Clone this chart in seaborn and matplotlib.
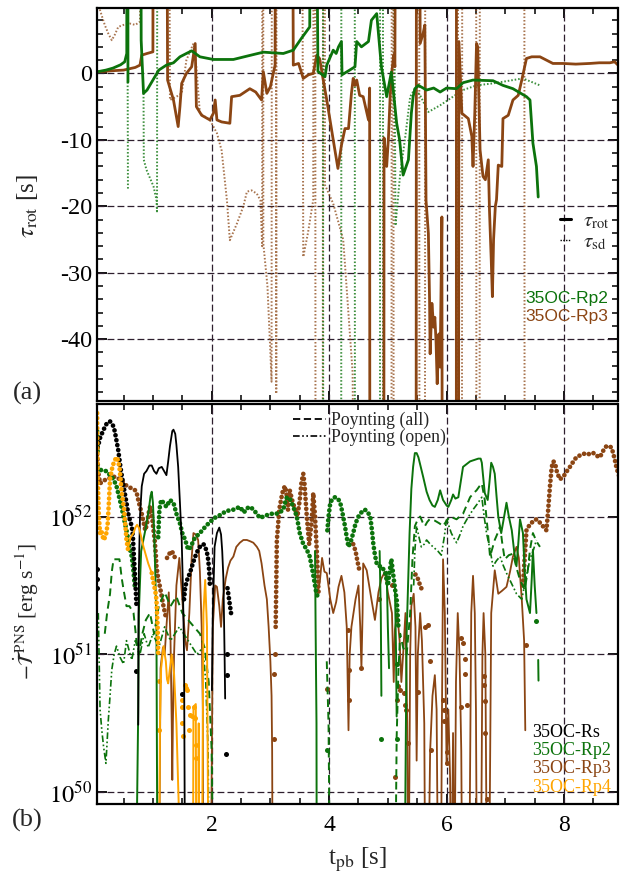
import numpy as np
import pandas as pd
import matplotlib
matplotlib.use("Agg")
import matplotlib.pyplot as plt
from matplotlib.lines import Line2D
from matplotlib.ticker import MultipleLocator, FixedLocator, NullLocator
import seaborn as sns

B = (np.nan, np.nan)  # gap between separate pieces of one curve

# ---------------- panel (a): time scales tau [s] vs t_pb [s] ----------------
rp2_rot = [(0.05, 0.24), (0.20, 0.5), (0.32, 0.8), (0.45, 1.3), (0.52, 1.75), (0.555, 3.0), (0.565, 100), B,
           (0.57, 100), (0.575, -1.3), B,
           (0.785, 100), (0.80, 5.0), (0.84, -3.0), (0.90, -2.5), (1.00, -1.0), (1.10, 0.5), (1.23, 1.25),
           (1.35, 1.6), (1.46, 2.5), (1.57, 3.0), (1.66, 3.4), (1.80, 2.5), (2.03, 2.1), (2.37, 2.1),
           (2.60, 2.6), (2.88, 3.2), (3.05, 3.1), (3.22, 3.0), (3.39, 3.5), (3.53, 5.3), (3.67, 7.0),
           (3.70, 100), (3.72, 100), (3.81, 0.3), (3.93, -0.5), (3.96, 1.25), (4.07, 3.5), (4.12, 3.0),
           (4.16, 4.0), (4.21, 4.8), (4.22, -0.2), (4.35, 0.5), (4.44, 1.0), (4.47, 4.8), (4.55, 4.0),
           (4.67, 4.8), (4.72, 8.0), (4.81, 9.0), (4.84, 6.0), (4.89, 1.0), (4.98, -3.5), (5.06, 0.2),
           (5.15, -7.5), (5.20, -10.0), (5.26, -15.3), (5.35, -13.0), (5.40, -6.0), (5.43, -3.5),
           (5.46, -2.3), (5.52, -1.8), (5.66, -2.5), (5.78, -2.2), (5.89, -2.8), (6.00, -2.2), (6.17, -2.3),
           (6.28, -1.4), (6.45, -1.0), (6.79, -1.1), (6.96, -1.8), (7.13, -2.3), (7.36, -3.5), (7.42, -4.0),
           (7.47, -10.5), (7.53, -14.0), (7.56, -18.6)]

rp2_sd = [(0.57, -1.3), (0.575, -17.5), B,
          (0.84, -3.0), (0.845, -13.0), (0.89, -14.5), (1.01, -17.0), (1.06, -19.0), (1.07, -21.0), (1.08, 100), B,
          (3.895, 100), (3.90, -100), (4.205, -100), (4.21, 100), (4.435, 100), (4.44, -100),
          (4.865, -100), (4.87, 100), (4.915, 100), (4.92, -100), B,
          (5.06, 100), (5.13, -22.9), (5.21, -15.1), (5.29, -10.0), (5.38, -3.5), (5.46, -2.3), (5.55, -3.3),
          (5.69, -5.8), (5.89, -4.8), (6.11, -3.5), (6.28, -2.5), (6.51, -1.8), (6.79, -1.5), (7.13, -1.0),
          (7.30, -0.75), (7.59, -1.8)]

rp3_rot = [(0.05, 0.24), (0.30, 0.4), (0.50, 0.5), (0.70, 0.9), (0.78, 1.25), (0.81, 2.75), (0.90, 3.0),
           (1.00, 3.25), (1.01, 100), B,
           (1.21, 100), (1.25, -1.0), (1.35, -4.0), (1.43, -8.0), (1.46, -5.0), (1.49, -1.5), (1.57, 0.0),
           (1.66, 1.0), (1.72, 4.5), (1.74, -5.0), (1.83, -6.3), (1.97, -7.0), (2.03, -6.0), (2.06, -4.0),
           (2.09, -7.0), (2.17, -7.3), (2.31, -7.5), (2.34, -3.5), (2.48, -3.3), (2.65, -2.3), (2.75, -2.8),
           (2.85, -4.0), (2.88, 0.24), (2.94, -3.0), (3.00, -2.0), (3.08, 1.25), (3.10, 100), B,
           (3.35, 100), (3.39, 1.25), (3.48, 1.5), (3.56, -0.75), (3.65, -0.2), (3.73, 0.0), (3.79, 2.75),
           (3.84, 2.2), (3.90, -1.0), (3.96, -4.0), (4.07, -10.0), (4.15, -14.3), (4.21, -10.8), (4.27, -8.3),
           (4.33, -8.3), (4.38, -3.0), (4.41, -0.75), (4.44, -1.8), (4.47, -1.0), (4.52, -3.3), (4.58, -3.5),
           (4.67, -7.0), (4.69, -2.2), (4.695, -100), B,
           (4.93, -100), (4.935, -9.7), (4.98, -14.0), (5.01, -9.7), (5.04, -3.3), (5.07, 0.4), (5.10, 2.8),
           (5.12, 1.0), (5.15, 100), B,
           (5.48, -100), (5.49, 100), B,
           (5.52, 100), (5.55, 4.5), (5.60, 6.0), (5.63, 7.3), (5.65, -19.1), (5.69, -24.1), (5.71, -34.1),
           (5.72, -42.2), (5.75, -34.6), (5.78, -38.2), (5.80, -36.7), (5.82, -40.2), (5.84, -46.7),
           (5.87, -39.2), (5.89, -44.2), (5.92, -21.6), (5.93, -100), B,
           (6.165, -100), (6.17, 100), B,
           (6.20, -100), (6.21, 4.8), (6.26, -6.0), (6.37, -6.8), (6.43, -9.5), (6.45, -14.0), (6.48, -6.0),
           (6.51, 4.5), (6.53, 4.0), (6.57, -11.5), (6.62, -15.5), (6.66, -16.0), (6.71, -13.0), (6.73, -20.5),
           (6.76, -28.0), (6.78, -33.6), (6.80, -25.0), (6.83, -20.0), (6.85, -19.0), (6.88, -13.8),
           (6.94, -14.0), (6.96, -6.8), (7.05, -6.3), (7.13, -4.0), (7.22, -3.3), (7.28, -1.0), (7.36, 2.25),
           (7.45, 2.5), (7.59, 2.5), (7.70, 2.0), (7.81, 1.5), (7.98, 1.5), (8.20, 1.4), (8.44, 1.5),
           (8.60, 1.6), (8.78, 1.6), (8.86, 1.75), (8.95, 1.0)]

rp3_sd = [(0.05, 100), (0.10, 9.5), (0.18, 7.3), (0.24, 6.0), (0.30, 5.0), (0.35, 5.8), (0.41, 7.0),
          (0.50, 7.3), (0.61, 7.5), (0.70, 7.3), (0.78, 7.8), (0.82, 100), B,
          (1.25, 100), (1.29, -4.0), (1.40, -3.5), (1.49, -3.0), (1.57, 2.0), (1.69, 4.5), (1.74, 1.0),
          (1.80, -6.0), (1.97, -7.0), (2.09, -9.0), (2.17, -11.6), (2.26, -19.1), (2.31, -25.1),
          (2.43, -22.6), (2.54, -20.0), (2.60, -17.8), (2.68, -17.6), (2.77, -18.1), (2.83, -19.1),
          (2.86, -26.0), (2.865, 100), (2.875, 100), (2.88, -25.6), (2.95, -32.0), (3.00, -42.0),
          (3.02, -46.4), (3.03, 100), (3.09, 100), (3.10, -48.2), (3.11, 100), (3.52, 100), (3.56, -27.6),
          (3.64, -24.0), (3.73, -19.0), (3.74, 100), (3.76, 100), (3.77, -100), (3.89, -100), (3.90, 100),
          (3.92, 100), (3.93, -16.8), (4.07, -19.6), (4.24, -25.0), (4.40, -45.0), (4.45, -100), B,
          (5.06, -100), (5.07, 100), (5.09, 100), (5.10, -100), (5.48, -100), (5.49, 100), (5.53, 100),
          (5.54, -100), (5.63, -100), (5.64, 100), (6.19, 100), (6.20, -100), (6.26, -100), (6.27, 100),
          (6.50, 100), (6.51, -100), (6.56, -100), (6.57, 100), (7.32, 100), (7.33, -100)]

# ---------------- panel (b): log10 of -dT/dt [erg/s] vs t_pb [s] ----------------
rs_line = [(0.75, 50.49), (0.755, 51.25), (0.76, 51.6), (0.78, 52.0), (0.81, 52.22), (0.85, 52.31),
           (0.89, 52.33), (0.94, 52.37), (0.98, 52.37), (1.02, 52.33), (1.06, 52.31), (1.10, 52.35),
           (1.15, 52.36), (1.19, 52.33), (1.23, 52.30), (1.26, 52.40), (1.29, 52.51), (1.33, 52.62),
           (1.35, 52.63), (1.38, 52.6), (1.40, 52.52), (1.43, 52.36), (1.46, 52.1), (1.49, 51.83),
           (1.51, 51.5), (1.53, 51.0), (1.55, 49.0), B,
           (2.005, 50.74), (2.02, 51.3), (2.05, 51.78), (2.09, 51.88), (2.13, 51.92), (2.16, 51.87),
           (2.18, 51.75), (2.20, 51.55), (2.22, 51.0), (2.23, 50.68)]
rs_neg = [(0.06, 52.5), (0.10, 52.57), (0.16, 52.63), (0.22, 52.68), (0.27, 52.69), (0.32, 52.66),
          (0.35, 52.62), (0.38, 52.55), (0.41, 52.48), (0.45, 52.35), (0.50, 52.22), (0.55, 52.1),
          (0.58, 52.02), (0.61, 51.97), (0.64, 51.93), (0.66, 51.85), (0.67, 51.76), (0.69, 51.6),
          (0.70, 51.54), (0.72, 51.35), B,
          (1.53, 51.40), (1.55, 51.49), (1.59, 51.55), (1.63, 51.59), (1.68, 51.66), (1.72, 51.71),
          (1.76, 51.75), (1.80, 51.78), (1.86, 51.80), (1.89, 51.78), (1.92, 51.74), (1.94, 51.69),
          (1.96, 51.6), (1.97, 51.5), B,
          (2.27, 51.48), (2.29, 51.42), (2.31, 51.36), (2.33, 51.30)]
rs_pts = [(0.05, 51.62), (0.05, 51.55), (0.055, 51.48), (0.72, 50.88), (1.49, 50.71), (2.26, 51.0),
          (2.26, 50.85), (2.25, 50.28)]

rp2_line = [(0.73, 49.9), (0.75, 50.6), (0.76, 51.3), (0.80, 51.75), (0.87, 51.9), (0.93, 52.05),
            (0.96, 52.15), (0.98, 52.18), (1.00, 52.1), (1.02, 51.9), (1.04, 51.6), (1.06, 51.2), (1.08, 49.0), B,
            (3.76, 51.75), (3.77, 51.2), (3.785, 50.5), (3.79, 49.0), B,
            (4.86, 51.75), (4.88, 51.3), (4.89, 50.7), B,
            (4.98, 51.6), (5.00, 51.2), (5.02, 50.9), B,
            (5.12, 51.5), (5.14, 51.0), (5.15, 50.55), B,
            (5.28, 49.0), (5.32, 51.15), (5.37, 51.88), (5.40, 52.2), (5.43, 52.36), (5.46, 52.46),
            (5.49, 52.46), (5.52, 52.43), (5.56, 52.36), (5.60, 52.29), (5.66, 52.18), (5.71, 52.12),
            (5.76, 52.08), (5.80, 52.07), (5.85, 52.12), (5.89, 52.19), (5.94, 52.12), (6.00, 52.08),
            (6.03, 52.07), (6.08, 52.12), (6.11, 52.16), (6.15, 52.13), (6.20, 52.14), (6.24, 52.25),
            (6.28, 52.36), (6.34, 52.38), (6.40, 52.40), (6.47, 52.41), (6.54, 52.42), (6.58, 52.42),
            (6.60, 52.39), (6.62, 52.30), (6.65, 52.17), (6.70, 52.12), (6.73, 52.25), (6.76, 52.39),
            (6.79, 52.36), (6.82, 52.31), (6.85, 52.15), (6.88, 52.0), (6.93, 51.88), (6.98, 52.0),
            (7.02, 52.10), (7.06, 52.0), (7.11, 51.90), (7.15, 51.75), (7.19, 51.64), (7.22, 51.8),
            (7.25, 51.98), (7.30, 51.88), (7.33, 51.6), (7.36, 51.40), (7.42, 51.30), (7.45, 51.55),
            (7.47, 51.76), (7.50, 51.5), (7.53, 51.30), B,
            (7.56, 50.96), (7.565, 50.81)]
rp2_neg = [(0.05, 52.62), (0.06, 52.45), B,
           (0.05, 52.36), (0.10, 52.34), (0.16, 52.33), (0.21, 52.33), (0.27, 52.30), (0.33, 52.27),
           (0.38, 52.22), (0.42, 52.15), (0.46, 52.08), (0.50, 52.0), (0.55, 51.9), (0.60, 51.78),
           (0.64, 51.71), (0.67, 51.6), (0.69, 51.5), B,
           (1.09, 51.85), (1.11, 52.05), (1.14, 52.12), (1.18, 52.10), (1.23, 52.07), (1.29, 52.12),
           (1.32, 52.11), (1.35, 52.10), (1.40, 52.02), (1.46, 51.95), (1.50, 51.88), (1.55, 51.83),
           (1.60, 51.76), (1.65, 51.78), (1.69, 51.83), (1.75, 51.86), (1.80, 51.88), (1.90, 51.93),
           (1.97, 51.96), (2.05, 51.99), (2.14, 52.01), (2.25, 52.04), (2.37, 52.05), (2.48, 52.07),
           (2.55, 52.03), (2.60, 52.06), (2.66, 52.07), (2.71, 52.05), (2.77, 52.02), (2.82, 51.99),
           (2.88, 52.0), (2.94, 52.01), (3.02, 52.02), (3.10, 52.02), (3.16, 52.03), (3.22, 52.05),
           (3.25, 52.1), (3.28, 52.14), (3.33, 52.13), (3.39, 52.07), (3.45, 52.0), (3.50, 51.88),
           (3.56, 51.80), (3.62, 51.76), (3.67, 51.71), (3.72, 51.6), (3.78, 51.45), (3.82, 51.40), B,
           (3.97, 51.9), (3.99, 52.0), (4.02, 52.10), (4.06, 52.13), (4.10, 52.14), (4.15, 52.13),
           (4.19, 52.10), (4.23, 52.02), (4.27, 51.93), (4.30, 51.85), (4.33, 51.78), (4.37, 51.82),
           (4.41, 51.88), (4.45, 51.95), (4.50, 52.0), (4.55, 52.03), (4.61, 52.05), (4.66, 52.03),
           (4.70, 52.0), (4.73, 51.9), (4.75, 51.81), (4.78, 51.72), (4.81, 51.66), (4.85, 51.64),
           (4.89, 51.64), (4.95, 51.6), (5.00, 51.5), (5.03, 51.6), (5.06, 51.69), (5.10, 51.55),
           (5.13, 51.45), (5.15, 51.40), (5.18, 51.2)]
rp2_pts = [(3.96, 50.31), (4.89, 50.39), (5.15, 50.39), (5.16, 50.93), (7.53, 51.24)]
rp2_poy_all = [(0.18, 51.15), (0.22, 51.3), (0.27, 51.44), (0.30, 51.6), (0.33, 51.69), (0.38, 51.69),
               (0.43, 51.69), (0.47, 51.55), (0.50, 51.47), (0.55, 51.35), (0.60, 51.35), (0.67, 51.30),
               (0.72, 51.1), (0.76, 51.0), (0.82, 51.15), (0.88, 51.25), (0.95, 51.3), (1.02, 51.15),
               (1.10, 51.35), (1.20, 51.45), (1.30, 51.35), (1.40, 51.42), (1.50, 51.3), (1.60, 51.25),
               (1.70, 51.2), (1.80, 51.15), (1.88, 51.05), (1.95, 50.8), (2.00, 50.3), (2.04, 49.0), B,
               (3.96, 50.95), (3.99, 50.5), (4.00, 50.0), (4.01, 49.0), B,
               (5.12, 49.0), (5.15, 50.4), (5.18, 50.88), (5.21, 51.15), (5.26, 51.05), (5.32, 51.0),
               (5.38, 51.3), (5.42, 51.7), (5.46, 51.93), (5.50, 51.97), (5.55, 52.0), (5.59, 51.96),
               (5.63, 51.93), (5.67, 51.96), (5.71, 51.98), (5.80, 51.97), (5.88, 51.95), (5.94, 51.93),
               (6.00, 51.97), (6.06, 52.0), (6.17, 51.98), (6.28, 52.02), (6.34, 52.08), (6.40, 52.14),
               (6.46, 52.17), (6.51, 52.19), (6.56, 52.22), (6.60, 52.24), (6.65, 52.12), (6.70, 51.9),
               (6.74, 51.71), (6.78, 51.77), (6.82, 51.83), (6.87, 51.88), (6.91, 51.93), (6.95, 51.8),
               (6.99, 51.69), (7.06, 51.72), (7.13, 51.73), (7.19, 51.63), (7.25, 51.54), (7.33, 51.47),
               (7.38, 51.6), (7.42, 51.76), (7.47, 51.88), (7.53, 51.82), (7.59, 51.78)]
rp2_poy_open = [(0.07, 51.3), (0.10, 50.60), (0.13, 50.45), (0.16, 50.33), (0.20, 50.21), (0.24, 50.52),
                (0.27, 50.7), (0.30, 50.89), (0.34, 51.0), (0.38, 51.06), (0.44, 50.98), (0.50, 50.93),
                (0.55, 51.10), (0.60, 51.02), (0.64, 50.96), (0.70, 51.1), (0.78, 51.0), (0.85, 51.15),
                (0.92, 51.05), (1.00, 51.15), (1.10, 51.05), (1.20, 51.2), (1.30, 51.1), (1.45, 51.2),
                (1.60, 51.1), (1.75, 51.0), (1.85, 51.05), (1.90, 50.8), (1.94, 50.3), (1.96, 49.0), B,
                (5.44, 51.5), (5.46, 51.75), (5.49, 51.93), (5.53, 51.85), (5.57, 51.78), (5.62, 51.8),
                (5.66, 51.83), (5.72, 51.8), (5.77, 51.78), (5.85, 51.75), (5.91, 51.72), (5.96, 51.85),
                (6.00, 51.98), (6.04, 51.93), (6.08, 51.88), (6.13, 51.84), (6.17, 51.81), (6.23, 51.87),
                (6.28, 51.93), (6.36, 51.99), (6.45, 52.05), (6.52, 52.09), (6.60, 52.14), (6.64, 52.0),
                (6.68, 51.88), (6.74, 51.76), (6.79, 51.64), (6.85, 51.68), (6.91, 51.71), (6.96, 51.65),
                (7.02, 51.59), (7.10, 51.52), (7.19, 51.44), (7.28, 51.40), (7.35, 51.55), (7.42, 51.69),
                (7.48, 51.76), (7.53, 51.83)]

rp3_line = [(1.10, 49.0), (1.13, 50.9), (1.17, 51.05), (1.20, 51.0), (1.23, 51.2), (1.27, 51.45), (1.30, 51.1),
            (1.32, 50.5), (1.33, 50.09), (1.34, 50.5), (1.36, 51.0), (1.40, 51.5), (1.45, 51.7), (1.50, 51.4),
            (1.55, 51.1), (1.58, 51.03), (1.62, 51.3), (1.66, 51.7), (1.69, 51.88), (1.73, 51.87),
            (1.77, 51.83), (1.80, 51.6), (1.83, 51.2), (1.85, 50.6), (1.86, 49.0), B,
            (1.98, 49.0), (2.02, 51.2), (2.06, 51.5), (2.09, 51.49), (2.13, 51.35), (2.16, 51.2), (2.19, 51.4),
            (2.24, 51.55), (2.28, 51.63), (2.32, 51.68), (2.37, 51.71), (2.42, 51.78), (2.48, 51.81),
            (2.54, 51.83), (2.60, 51.83), (2.66, 51.82), (2.71, 51.81), (2.77, 51.78), (2.81, 51.75),
            (2.85, 51.66), (2.90, 51.5), (2.94, 51.40), (2.97, 51.2), (3.00, 50.95), (3.02, 50.7),
            (3.03, 50.3), (3.04, 49.0), B,
            (3.80, 51.45), (3.84, 51.52), (3.88, 51.7), (3.92, 51.6), (3.96, 51.59), (4.02, 51.40),
            (4.07, 51.30), (4.12, 51.38), (4.16, 51.49), (4.21, 51.57), (4.26, 51.45), (4.30, 51.2),
            (4.33, 50.45), (4.35, 51.0), (4.38, 51.20), (4.45, 51.4), (4.50, 51.5), (4.53, 51.2), (4.55, 50.9),
            (4.57, 51.3), (4.58, 51.66), (4.64, 51.61), (4.72, 51.40), (4.78, 51.25), (4.84, 51.45),
            (4.89, 51.55), (4.95, 51.6), (5.00, 51.45), (5.07, 51.3), (5.10, 50.8), (5.12, 51.18),
            (5.16, 51.3), (5.20, 51.1), (5.23, 50.8), (5.26, 51.0), (5.30, 51.3), (5.33, 50.5), (5.35, 49.0),
            (5.38, 51.0), (5.40, 51.35), (5.44, 51.44), (5.47, 51.2), (5.49, 50.23), (5.51, 51.0),
            (5.55, 51.3), (5.58, 51.1), (5.62, 50.5), (5.64, 49.0), (5.68, 49.0), (5.72, 50.3), (5.76, 50.7),
            (5.80, 50.85), (5.83, 50.6), (5.86, 49.0), (5.90, 49.0), (5.92, 50.5), (5.94, 51.69),
            (5.97, 51.3), (6.00, 50.2), (6.03, 50.6), (6.06, 50.1), (6.08, 49.0), (6.11, 50.43),
            (6.13, 49.0), (6.16, 50.8), (6.19, 51.3), (6.22, 51.0), (6.25, 50.3), (6.27, 49.0),
            (6.38, 49.0), (6.42, 51.3), (6.45, 51.57), (6.48, 51.3), (6.50, 50.6), (6.52, 49.0),
            (6.58, 49.0), (6.61, 51.0), (6.63, 51.3), (6.66, 51.0), (6.69, 49.0), (6.72, 49.0),
            (6.76, 51.3), (6.82, 51.61), (6.88, 51.44), (6.94, 51.46), (7.02, 51.49), (7.08, 51.6),
            (7.13, 51.71), (7.19, 51.78), (7.23, 51.7), (7.28, 51.4), (7.32, 51.1), (7.34, 50.45)]
rp3_neg = [(0.05, 52.45), (0.07, 52.32), (0.10, 52.24), (0.16, 52.26), (0.21, 52.27), (0.27, 52.28),
           (0.33, 52.29), (0.39, 52.28), (0.44, 52.27), (0.49, 52.25), (0.53, 52.23), (0.57, 52.22),
           (0.61, 52.21), (0.66, 52.2), (0.70, 52.19), (0.73, 52.16), (0.75, 52.12), (0.78, 52.07),
           (0.81, 52.02), (0.84, 51.96), (0.87, 51.90), (0.90, 51.95), (0.93, 52.03), (0.95, 52.07),
           (0.97, 52.05), (0.99, 51.98), (1.01, 51.9), (1.03, 51.83), (1.05, 51.72), (1.06, 51.64),
           (1.09, 51.55), (1.12, 51.49), (1.15, 51.42), (1.18, 51.35), (1.21, 51.29), (1.23, 51.25), B,
           (1.24, 51.70), (1.28, 51.73), (1.32, 51.75), (1.36, 51.72), (1.39, 51.68), B,
           (3.09, 51.2), (3.10, 51.5), (3.11, 51.83), (3.13, 51.93), (3.15, 52.05), (3.19, 52.14),
           (3.22, 52.2), (3.25, 52.22), (3.28, 52.15), (3.30, 52.05), (3.33, 52.19), (3.37, 52.12),
           (3.42, 52.05), (3.46, 52.0), (3.50, 52.12), (3.53, 52.25), (3.56, 52.31), (3.58, 52.24),
           (3.62, 52.0), (3.66, 51.80), (3.70, 51.95), (3.73, 52.17), (3.76, 52.0), (3.79, 51.75),
           (3.81, 51.55), (3.82, 51.45), B,
           (4.41, 51.8), (4.45, 51.75), (4.48, 51.68), (4.52, 51.6), B,
           (5.47, 51.58), (5.51, 51.55), (5.55, 51.5), (5.60, 51.45), B,
           (7.30, 51.5), (7.33, 51.7), (7.36, 51.90), (7.40, 51.93), (7.44, 51.95), (7.48, 51.97),
           (7.53, 51.98), (7.58, 51.96), (7.64, 51.93), (7.70, 51.90), (7.73, 52.05), (7.76, 52.22),
           (7.79, 52.36), (7.82, 52.40), (7.85, 52.38), (7.88, 52.32), (7.93, 52.27), (7.99, 52.29),
           (8.05, 52.33), (8.10, 52.36), (8.16, 52.40), (8.21, 52.43), (8.30, 52.45), (8.38, 52.46),
           (8.44, 52.45), (8.50, 52.46), (8.56, 52.44), (8.61, 52.43), (8.67, 52.48), (8.72, 52.51),
           (8.77, 52.51), (8.81, 52.50), (8.86, 52.42), (8.89, 52.36), (8.93, 52.30), (8.95, 52.29)]
rp3_pts = [(3.08, 51.0), (3.07, 50.86), (3.07, 50.39), (3.96, 50.75), (4.33, 51.18), (4.34, 50.89),
           (4.34, 50.67), (4.55, 50.90), (5.12, 50.11), (5.15, 50.67), (5.18, 50.77), (5.21, 50.74),
           (5.27, 50.72), (5.29, 50.63), (5.31, 50.60), (5.35, 50.36), (5.52, 50.73), (5.69, 51.21),
           (5.71, 50.95), (5.74, 50.31), (5.94, 50.67), (5.96, 50.60), (5.96, 50.52), (6.00, 50.21),
           (6.00, 50.29), (6.25, 51.12), (6.28, 51.08), (6.31, 50.97), (6.32, 50.86), (6.25, 50.62),
           (6.34, 50.63), (6.63, 50.84), (6.64, 50.78), (6.65, 50.66), (6.65, 50.43), (6.68, 49.95),
           (7.36, 51.07), (5.07, 51.5), (4.85, 51.4), (5.63, 51.2)]

rp4_line = [(0.58, 51.78), (0.62, 51.85), (0.67, 51.88), (0.70, 51.92), (0.73, 51.94), (0.76, 51.92),
            (0.78, 51.89), (0.84, 51.78), (0.88, 51.72), (0.92, 51.66), (0.98, 51.59), B,
            (1.10, 49.0), (1.12, 50.5), (1.14, 50.9), (1.18, 51.06), (1.22, 50.95), (1.24, 50.82),
            (1.26, 50.79), (1.29, 50.9), (1.32, 51.0), (1.36, 50.86), (1.40, 50.5), (1.44, 49.9), (1.46, 49.0), B,
            (1.68, 49.0), (1.69, 50.62), (1.73, 50.64), (1.74, 49.0), B,
            (1.77, 49.0), (1.78, 50.5), (1.79, 49.0), B,
            (1.83, 49.0), (1.86, 51.3), (1.89, 51.54), (1.92, 51.2), (1.95, 49.0)]
rp4_neg = [(0.05, 52.75), (0.052, 52.6), (0.055, 52.45), (0.06, 52.29), (0.07, 52.15), (0.08, 52.0),
           (0.10, 51.88), (0.12, 51.9), (0.16, 51.83), (0.20, 51.86), (0.23, 51.95), (0.25, 52.1),
           (0.27, 52.27), (0.31, 52.36), (0.35, 52.41), (0.39, 52.43), (0.43, 52.36), (0.47, 52.17),
           (0.51, 52.05), (0.55, 51.83), (0.58, 51.75), B,
           (0.98, 51.59), (1.01, 51.52), (1.04, 51.46), (1.06, 51.40), (1.08, 51.2), (1.09, 51.0)]
rp4_pts = [(1.10, 50.81), (1.11, 50.45), (1.49, 50.67), (1.50, 50.62), (1.50, 50.50), (1.52, 50.41),
           (1.55, 50.78), (1.56, 50.76), (1.58, 50.74), (1.60, 50.62), (1.61, 50.45), (1.63, 50.56),
           (1.66, 50.55), (1.70, 50.62), (1.72, 50.54), (1.74, 50.34), (1.74, 50.25)]

models = ["35OC-Rs", "35OC-Rp2", "35OC-Rp3", "35OC-Rp4"]
tau_labels = [r"$\tau_{\mathrm{rot}}$", r"$\tau_{\mathrm{sd}}$"]
poynting_labels = ["Poynting (all)", "Poynting (open)"]

BLACK, GREEN, BROWN, ORANGE = "#000000", "#0c730c", "#8b4513", "#ffa500"
GRID = "#2e1f2e"

sns.set_theme(style="ticks")
plt.rcParams.update({
    "font.family": ["Liberation Serif", "DejaVu Serif"],
    "mathtext.fontset": "stix",
    "axes.unicode_minus": False,
    "axes.linewidth": 1.6,
    "axes.edgecolor": "black",
    "xtick.direction": "in", "ytick.direction": "in",
    "xtick.top": True, "ytick.right": True,
    "xtick.major.size": 7, "ytick.major.size": 7,
    "xtick.minor.size": 4, "ytick.minor.size": 4.5,
    "xtick.major.width": 1.3, "ytick.major.width": 1.3,
    "xtick.minor.width": 1.1, "ytick.minor.width": 1.1,
    "xtick.color": "black", "ytick.color": "black",
    "xtick.labelsize": 17, "ytick.labelsize": 17.5,
})


def pieces(points, log=False):
    rows, seg = [], 0
    for t, v in points:
        if np.isnan(t):
            seg += 1
            continue
        rows.append((t, 10.0 ** v if log else v, seg))
    return pd.DataFrame(rows, columns=["t", "v", "seg"])


def curve(ax, points, color, log=False, **kw):
    sns.lineplot(data=pieces(points, log), x="t", y="v", units="seg", estimator=None,
                 sort=False, color=color, ax=ax, legend=False, **kw)


def beads(ax, points, color):
    # negative torque: drawn as a chain of round dots
    curve(ax, points, color, log=True, lw=3.4, linestyle=(0, (0.01, 1.05)), dash_capstyle="round")


def marks(ax, points, color):
    sns.scatterplot(data=pieces(points, True), x="t", y="v", color=color, s=13,
                    linewidth=0, ax=ax, legend=False)


fig = plt.figure(figsize=(6.2, 8.77), dpi=100)
W, H = 620.0, 877.0
ax_a = fig.add_axes([97 / W, 1 - 401 / H, (617.5 - 97) / W, (401 - 8.3) / H])
ax_b = fig.add_axes([97 / W, 1 - 804.3 / H, (617.5 - 97) / W, (804.3 - 404.3) / H])

XLIM = (0.048, 8.91)
dash = (0, (5.5, 2.5))

# ---- panel (a)
ax_a.set_xlim(*XLIM)
ax_a.set_ylim(-49.3, 9.8)
for y in [0, -10, -20, -30, -40]:
    ax_a.axhline(y, color=GRID, lw=0.9, ls=dash, zorder=1)
for x in [2, 4, 6, 8]:
    ax_a.axvline(x, color=GRID, lw=0.9, ls=dash, zorder=1)

curve(ax_a, rp3_sd, BROWN, lw=1.4, linestyle=(0, (0.8, 1.0)), alpha=0.75)
curve(ax_a, rp2_sd, GREEN, lw=1.4, linestyle=(0, (0.8, 1.0)), alpha=0.8)
curve(ax_a, rp3_rot, BROWN, lw=2.0)
curve(ax_a, rp2_rot, GREEN, lw=2.0)

ax_a.xaxis.set_major_locator(FixedLocator([2, 4, 6, 8]))
ax_a.xaxis.set_minor_locator(MultipleLocator(0.5))
ax_a.yaxis.set_major_locator(FixedLocator([0, -10, -20, -30, -40]))
ax_a.yaxis.set_minor_locator(MultipleLocator(2))
ax_a.tick_params(axis="x", which="both", labelbottom=False)
ax_a.set_xlabel("")
ax_a.set_ylabel("")

ax_a.legend(
    handles=[Line2D([], [], color="black", lw=2.2), Line2D([], [], color="black", lw=1.0, ls=(0, (1, 1)))],
    labels=tau_labels, loc="upper right", bbox_to_anchor=(0.985, 0.482), frameon=False,
    handlelength=0.55, handletextpad=0.55, labelspacing=0.05, borderaxespad=0, borderpad=0,
    prop={"family": "Liberation Sans", "size": 15})
ax_a.text(0.982, 0.262, models[1], color=GREEN, transform=ax_a.transAxes, ha="right", va="center",
          family="Liberation Sans", fontsize=12.5)
ax_a.text(0.982, 0.214, models[2], color=BROWN, transform=ax_a.transAxes, ha="right", va="center",
          family="Liberation Sans", fontsize=12.5)

# ---- panel (b)
ax_b.set_yscale("log")
ax_b.set_xlim(*XLIM)
ax_b.set_ylim(10 ** 49.913, 10 ** 52.814)
for e in [50, 51, 52]:
    ax_b.axhline(10.0 ** e, color=GRID, lw=0.9, ls=dash, zorder=1)
for x in [2, 4, 6, 8]:
    ax_b.axvline(x, color=GRID, lw=0.9, ls=dash, zorder=1)

curve(ax_b, rp3_line, BROWN, log=True, lw=1.3)
beads(ax_b, rp3_neg, BROWN)
marks(ax_b, rp3_pts, BROWN)

curve(ax_b, rp2_poy_open, GREEN, log=True, lw=1.2, linestyle=(0, (4, 1.5, 1, 1.5, 1, 1.5)))
curve(ax_b, rp2_poy_all, GREEN, log=True, lw=1.4, linestyle=(0, (4, 2.5)))
curve(ax_b, rp2_line, GREEN, log=True, lw=1.4)
beads(ax_b, rp2_neg, GREEN)
marks(ax_b, rp2_pts, GREEN)

curve(ax_b, rs_line, BLACK, log=True, lw=1.3)
beads(ax_b, rs_neg, BLACK)
marks(ax_b, rs_pts, BLACK)

curve(ax_b, rp4_line, ORANGE, log=True, lw=1.4)
beads(ax_b, rp4_neg, ORANGE)
marks(ax_b, rp4_pts, ORANGE)

ax_b.xaxis.set_major_locator(FixedLocator([2, 4, 6, 8]))
ax_b.xaxis.set_minor_locator(MultipleLocator(0.5))
ax_b.set_xticklabels(["2", "4", "6", "8"])
ax_b.yaxis.set_major_locator(FixedLocator([1e50, 1e51, 1e52]))
ax_b.yaxis.set_minor_locator(NullLocator())
ax_b.set_yticklabels([r"$10^{50}$", r"$10^{51}$", r"$10^{52}$"])
ax_b.tick_params(axis="x", which="major", pad=8)
ax_b.set_xlabel("")
ax_b.set_ylabel("")

ax_b.legend(
    handles=[Line2D([], [], color="black", lw=1.3, ls=(0, (4, 2))),
             Line2D([], [], color="black", lw=1.2, ls=(0, (4, 1.5, 1, 1.5, 1, 1.5)))],
    labels=poynting_labels, loc="upper left", bbox_to_anchor=(0.376, 0.982), frameon=False,
    handlelength=1.9, handletextpad=0.25, labelspacing=0.0, borderaxespad=0, borderpad=0,
    prop={"family": "Liberation Serif", "size": 12.8})

for name, col, y in zip(models, [BLACK, GREEN, BROWN, ORANGE], [0.180, 0.135, 0.090, 0.043]):
    ax_b.text(0.836, y, name, color=col, transform=ax_b.transAxes, ha="left", va="center", fontsize=13)

# ---- labels
fig.text(28 / W, 1 - 206 / H, r"$\tau_{\mathrm{rot}}$ [s]", rotation=90, ha="center", va="center", fontsize=18)
fig.text(26 / W, 1 - 612 / H, r"$-\dot{\mathcal{T}}^{\,\mathrm{PNS}}$ [erg s$^{-1}$]", rotation=90,
         ha="center", va="center", fontsize=15.5)
fig.text(357 / W, 1 - 860 / H, r"t$_{\mathrm{pb}}$ [s]", ha="center", va="center", fontsize=18)
fig.text(27 / W, 1 - 393 / H, "(a)", ha="center", va="center", fontsize=19)
fig.text(27 / W, 1 - 820 / H, "(b)", ha="center", va="center", fontsize=19)

fig.savefig("out.png", dpi=100)
